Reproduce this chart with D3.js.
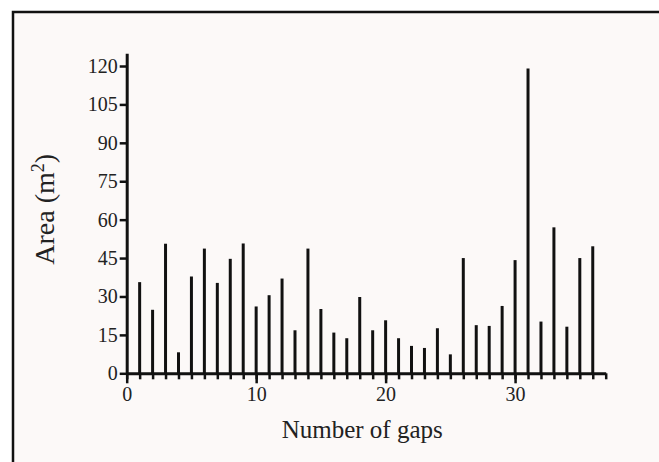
<!DOCTYPE html>
<html>
<head>
<meta charset="utf-8">
<script src="https://cdn.jsdelivr.net/npm/d3@7/dist/d3.min.js"></script>
<style>
  html, body { margin: 0; padding: 0; background: #ffffff; }
  svg { display: block; }
  text { font-family: "Liberation Serif", "Times New Roman", serif; fill: #222; }
</style>
</head>
<body>
<svg id="chart" width="659" height="462"></svg>
<script>
// ---- data ----
const gapNumbers = [1,2,3,4,5,6,7,8,9,10,11,12,13,14,15,16,17,18,19,20,21,22,23,24,25,26,27,28,29,30,31,32,33,34,35,36];
const areaValues = [35.6,24.8,50.6,8.2,37.8,48.7,35.3,44.7,50.7,26.1,30.5,37.0,16.8,48.7,25.1,15.9,13.7,29.8,16.8,20.7,13.7,10.7,9.9,17.6,7.4,45.0,18.8,18.5,26.3,44.2,119.0,20.2,57.0,18.2,45.0,49.6];
const yTickValues = [0,15,30,45,60,75,90,105,120];
const xMajorTicks = [0,10,20,30];
const xDomain = [0,37];
const yDomain = [0,125];
const xTitle = "Number of gaps";

// ---- layout ----
const svg = d3.select("#chart");
const mLeft = 126.7, mRight = 605.7, mBottom = 373.3, mTop = 53.2;
const serif = '"Liberation Serif", "Times New Roman", serif';

svg.append("rect")
  .attr("x", 13).attr("y", 12)
  .attr("width", 700).attr("height", 500)
  .attr("fill", "#fcf9f8")
  .attr("stroke", "#111").attr("stroke-width", 2.5);

const x = d3.scaleLinear().domain(xDomain).range([mLeft, mRight]);
const y = d3.scaleLinear().domain(yDomain).range([mBottom, mTop]);

// bars (needle lines)
svg.append("g").selectAll("line")
  .data(gapNumbers)
  .join("line")
  .attr("x1", d => x(d)).attr("x2", d => x(d))
  .attr("y1", y(0))
  .attr("y2", (d, i) => y(areaValues[i]))
  .attr("stroke", "#111")
  .attr("stroke-width", 3);

// x axis: minor ticks every 1
const xMinor = d3.range(xDomain[0], xDomain[1] + 1);
const gxMinor = svg.append("g")
  .attr("transform", `translate(0,${y(0)})`)
  .call(d3.axisBottom(x).tickValues(xMinor).tickSize(6).tickSizeOuter(0).tickFormat(""));
gxMinor.select(".domain").attr("stroke", "#111").attr("stroke-width", 3);
gxMinor.selectAll(".tick line").attr("stroke", "#111").attr("stroke-width", 2.5);

const gxMajor = svg.append("g")
  .attr("transform", `translate(0,${y(0)})`)
  .call(d3.axisBottom(x).tickValues(xMajorTicks).tickSize(10).tickPadding(4).tickFormat(d3.format("d")));
gxMajor.select(".domain").remove();
gxMajor.selectAll(".tick line").attr("stroke", "#111").attr("stroke-width", 2.5);
gxMajor.selectAll(".tick text")
  .style("font-family", serif)
  .style("font-size", "20px").style("fill", "#222");

// y axis
const gy = svg.append("g")
  .attr("transform", `translate(${x(0)},0)`)
  .call(d3.axisLeft(y).tickValues(yTickValues).tickSize(7).tickSizeOuter(0).tickPadding(2).tickFormat(d3.format("d")));
gy.select(".domain").attr("stroke", "#111").attr("stroke-width", 3);
gy.selectAll(".tick line").attr("stroke", "#111").attr("stroke-width", 2.5);
gy.selectAll(".tick text")
  .style("font-family", serif)
  .style("font-size", "20px").style("fill", "#222");

// axis titles
svg.append("text")
  .attr("x", (mLeft + mRight) / 2 - 4)
  .attr("y", 438)
  .attr("text-anchor", "middle")
  .style("font-family", serif)
  .style("font-size", "25px")
  .text(xTitle);

const yt = svg.append("text")
  .attr("transform", `translate(54,${(mTop + mBottom) / 2 - 4}) rotate(-90)`)
  .attr("text-anchor", "middle")
  .style("font-family", serif)
  .style("font-size", "28px");
yt.append("tspan").text("Area (m");
yt.append("tspan").attr("baseline-shift", "super").style("font-size", "18px").text("2");
yt.append("tspan").text(")");
</script>
</body>
</html>
